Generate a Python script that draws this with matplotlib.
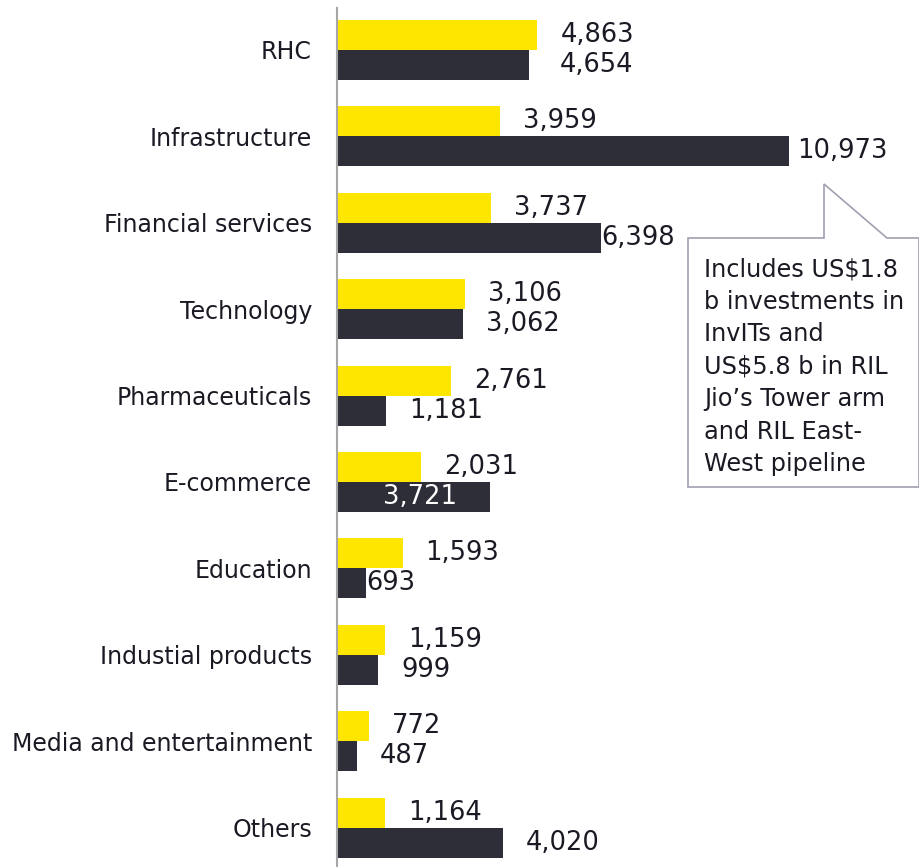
import matplotlib.pyplot as plt
from matplotlib.patches import Polygon

categories = ['RHC', 'Infrastructure', 'Financial services', 'Technology',
              'Pharmaceuticals', 'E-commerce', 'Education', 'Industial products',
              'Media and entertainment', 'Others']
yellow_vals = [4863, 3959, 3737, 3106, 2761, 2031, 1593, 1159, 772, 1164]
dark_vals = [4654, 10973, 6398, 3062, 1181, 3721, 693, 999, 487, 4020]

note = ("Includes US$1.8\nb investments in\nInvITs and\nUS$5.8 b in RIL\n"
        "Jio\u2019s Tower arm\nand RIL East-\nWest pipeline")

YELLOW = '#FFE600'
DARK = '#2E2E38'
TXT = '#1a1a24'

W, H = 920, 867
fig = plt.figure(figsize=(W / 100, H / 100), dpi=100)
ax = fig.add_axes([337 / W, 0, 1 - 337 / W, 1 - 8 / H])

h = 0.347
ys = list(range(len(categories)))
ax.barh([y - h / 2 for y in ys], yellow_vals, height=h, color=YELLOW)
ax.barh([y + h / 2 for y in ys], dark_vals, height=h, color=DARK)

ax.set_xlim(0, 14153)
ax.set_ylim(9.456, -0.486)

for s in ['top', 'right', 'bottom']:
    ax.spines[s].set_visible(False)
ax.spines['left'].set_color('#a6a6a6')
ax.spines['left'].set_linewidth(1.5)
ax.set_xticks([])
ax.set_yticks(ys)
ax.set_yticklabels(categories, fontsize=17, color=TXT)
ax.tick_params(axis='y', length=0, pad=18)

# label offsets in pixels from bar end
dark_off = {0: 31, 1: 8, 2: 1, 6: 1}
for i, v in enumerate(yellow_vals):
    ax.annotate(f'{v:,}', (v, i - h / 2), xytext=(23, 0), textcoords='offset pixels',
                va='center', ha='left', fontsize=18.5, color=TXT)
for i, v in enumerate(dark_vals):
    if i == 5:
        ax.annotate(f'{v:,}', (v / 2, i + h / 2), xytext=(6, 0), textcoords='offset pixels',
                    va='center', ha='center', fontsize=18.5, color='white')
        continue
    ax.annotate(f'{v:,}', (v, i + h / 2), xytext=(dark_off.get(i, 23), 0),
                textcoords='offset pixels', va='center', ha='left',
                fontsize=18.5, color=TXT)

# callout box
pts = [(688, 487), (688, 238), (824, 238), (824, 184), (887, 238),
       (919, 238), (919, 487)]
poly = Polygon([(x / W, 1 - y / H) for x, y in pts], closed=True,
               transform=fig.transFigure, facecolor='white',
               edgecolor='#a0a0b0', linewidth=1.2)
fig.patches.append(poly)
fig.text(704 / W, 1 - 257 / H, note, ha='left', va='top', fontsize=17.3,
         color=TXT, linespacing=1.45)

fig.savefig('out.png', dpi=100)
